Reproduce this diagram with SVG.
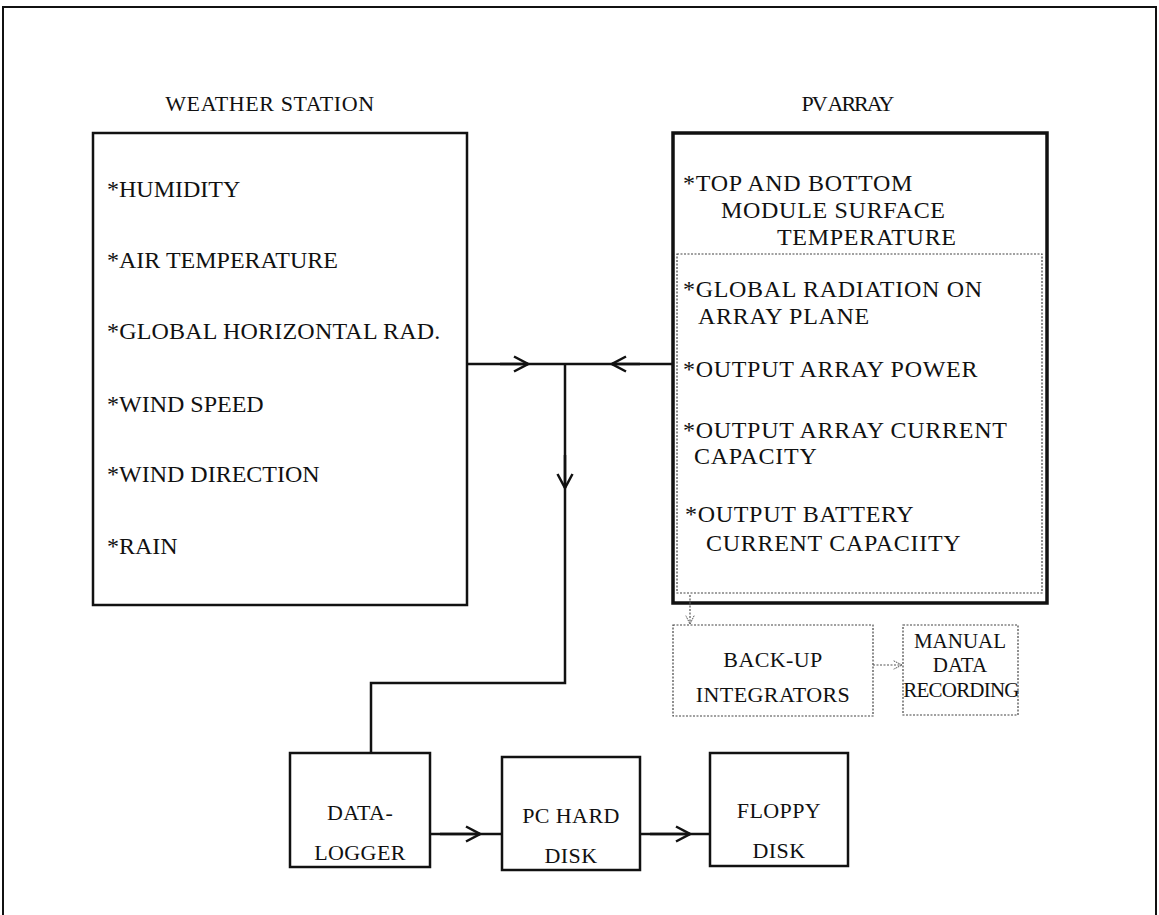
<svg xmlns="http://www.w3.org/2000/svg" width="1159" height="915" viewBox="0 0 1159 915">
<defs>
<style>
text{font-family:"Liberation Serif","Times New Roman",serif;fill:#111;font-size:24px}
.t{font-size:22px;letter-spacing:0.6px}
.p{font-size:24px;letter-spacing:0.7px}
.b{font-size:22px;letter-spacing:0.4px}
.m{text-anchor:middle}
.box{fill:none;stroke:#111;stroke-width:2.5}
.thick{fill:none;stroke:#111;stroke-width:3.5}
.dot{fill:none;stroke:#444;stroke-width:1.2;stroke-dasharray:2 1.5}
.line{fill:none;stroke:#111;stroke-width:2.5}
.dl{fill:none;stroke:#555;stroke-width:1.2;stroke-dasharray:2 1.5}
</style>
<marker id="chev" viewBox="0 0 16 18" refX="15" refY="9" markerWidth="16" markerHeight="18" markerUnits="userSpaceOnUse" orient="auto">
<path d="M1,1.5 L15,9 L1,16.5" fill="none" stroke="#111" stroke-width="2.5"/>
</marker>
<marker id="chevd" viewBox="0 0 12 12" refX="11" refY="6" markerWidth="10" markerHeight="10" markerUnits="userSpaceOnUse" orient="auto">
<path d="M1,1 L11,6 L1,11" fill="none" stroke="#555" stroke-width="1.2" stroke-dasharray="2 1"/>
</marker>
</defs>
<rect width="1159" height="915" fill="#fff"/>
<path d="M3,915 L3,7 L1156,7 L1156,915" fill="none" stroke="#111" stroke-width="2"/>

<g id="weather-station">
<text class="t m" x="270" y="111">WEATHER STATION</text>
<rect class="box" x="93" y="133" width="374" height="472"/>
<text x="107" y="197">*HUMIDITY</text>
<text x="107" y="268">*AIR TEMPERATURE</text>
<text x="107" y="339" style="letter-spacing:0.2px">*GLOBAL HORIZONTAL RAD.</text>
<text x="107" y="412">*WIND SPEED</text>
<text x="107" y="482">*WIND DIRECTION</text>
<text x="107" y="554">*RAIN</text>
</g>

<g id="pv-array">
<text class="t m" x="847" y="111" style="letter-spacing:-2px">PV ARRAY</text>
<rect class="thick" x="673" y="133" width="374" height="470"/>
<rect class="dot" x="677" y="254" width="365" height="339"/>
<text class="p" x="683" y="191">*TOP AND BOTTOM</text>
<text class="p" x="721" y="218">MODULE SURFACE</text>
<text class="p" x="777" y="245">TEMPERATURE</text>
<text class="p" x="683" y="297">*GLOBAL RADIATION ON</text>
<text class="p" x="698" y="324">ARRAY PLANE</text>
<text class="p" x="683" y="377">*OUTPUT ARRAY POWER</text>
<text class="p" x="683" y="438">*OUTPUT ARRAY CURRENT</text>
<text class="p" x="694" y="464">CAPACITY</text>
<text class="p" x="685" y="522">*OUTPUT BATTERY</text>
<text class="p" x="706" y="551">CURRENT CAPACIITY</text>
</g>

<g id="back-up-integrators">
<rect class="dot" x="673" y="625" width="200" height="91"/>
<text class="b m" x="773" y="667">BACK-UP</text>
<text class="b m" x="773" y="702">INTEGRATORS</text>
</g>

<g id="manual-data-recording">
<rect class="dot" x="903" y="625" width="115" height="90"/>
<text class="m" x="960" y="648" style="font-size:21px">MANUAL</text>
<text class="m" x="960" y="672" style="font-size:21px">DATA</text>
<text class="m" x="961" y="697" style="font-size:21px;letter-spacing:-0.8px">RECORDING</text>
</g>

<g id="data-logger">
<rect class="box" x="290" y="753" width="140" height="114"/>
<text class="b m" x="360" y="820">DATA-</text>
<text class="b m" x="360" y="860">LOGGER</text>
</g>

<g id="pc-hard-disk">
<rect class="box" x="502" y="757" width="138" height="113"/>
<text class="b m" x="571" y="823">PC HARD</text>
<text class="b m" x="571" y="863">DISK</text>
</g>

<g id="floppy-disk">
<rect class="box" x="710" y="753" width="138" height="113"/>
<text class="b m" x="779" y="818">FLOPPY</text>
<text class="b m" x="779" y="858">DISK</text>
</g>

<g id="connectors">
<path class="line" d="M467,364 L673,364"/>
<path class="line" d="M500,364 L528,364" marker-end="url(#chev)"/>
<path class="line" d="M640,364 L612,364" marker-end="url(#chev)"/>
<path class="line" d="M565,364 L565,683 L371,683 L371,753"/>
<path class="line" d="M565,455 L565,488" marker-end="url(#chev)"/>
<path class="line" d="M430,834 L502,834"/>
<path class="line" d="M440,834 L480,834" marker-end="url(#chev)"/>
<path class="line" d="M640,834 L710,834"/>
<path class="line" d="M650,834 L690,834" marker-end="url(#chev)"/>
<path class="dl" d="M690,595 L690,624" marker-end="url(#chevd)"/>
<path class="dl" d="M873,665 L902,665" marker-end="url(#chevd)"/>
</g>
</svg>
